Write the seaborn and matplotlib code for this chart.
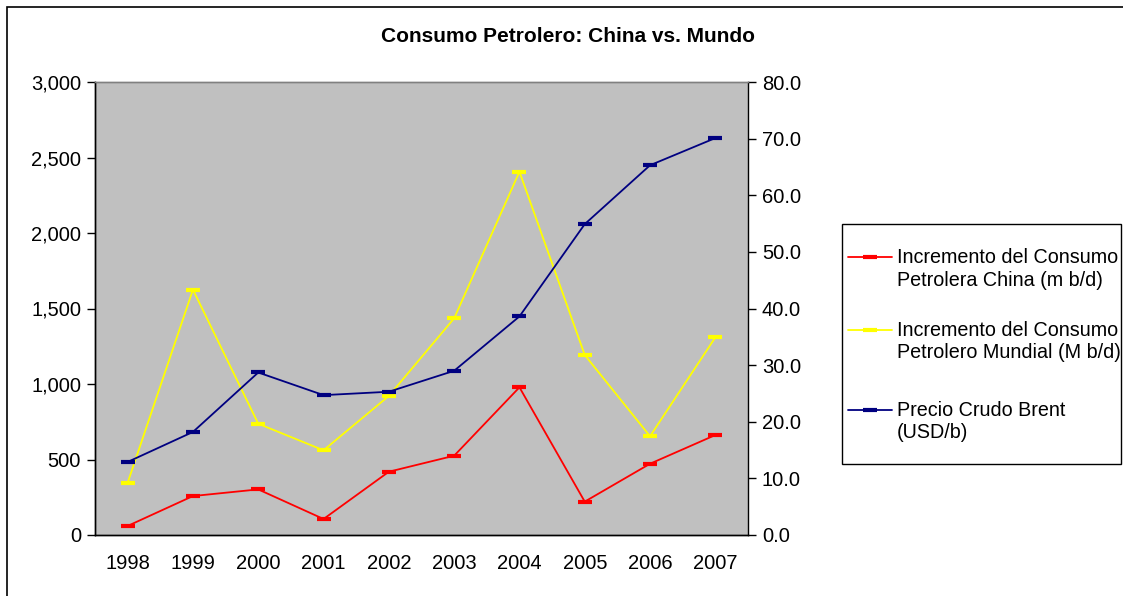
import numpy as np
import pandas as pd
import matplotlib
matplotlib.use("Agg")
import matplotlib.pyplot as plt
import seaborn as sns
from matplotlib.lines import Line2D
from matplotlib.ticker import FuncFormatter, FixedLocator

# Datos
years = ["1998", "1999", "2000", "2001", "2002", "2003", "2004", "2005", "2006", "2007"]
china = [60, 258, 302, 106, 419, 525, 978, 221, 472, 662]
mundo = [346, 1625, 737, 561, 921, 1435, 2406, 1192, 654, 1309]
brent = [12.9, 18.2, 28.7, 24.7, 25.3, 29.0, 38.6, 54.9, 65.3, 70.1]

lbl_china = "Incremento del Consumo\nPetrolera China (m b/d)"
lbl_mundo = "Incremento del Consumo\nPetrolero Mundial (M b/d)"
lbl_brent = "Precio Crudo Brent\n(USD/b)"

sns.set_style("white")
plt.rcParams["font.family"] = ["Liberation Sans", "DejaVu Sans"]
plt.rcParams["text.color"] = "black"
plt.rcParams["xtick.color"] = "black"
plt.rcParams["ytick.color"] = "black"

W, H = 1123, 596
df = pd.DataFrame({"pos": np.arange(len(years)), "china": china, "mundo": mundo, "brent": brent})

fig = plt.figure(figsize=(W / 100, H / 100), dpi=100)
ax = fig.add_axes([95 / W, 1 - 535 / H, (748 - 95) / W, (535 - 82) / H])
ax.set_facecolor("#c0c0c0")
ax2 = ax.twinx()

fs = 14.5
series = [("china", "#ff0000", lbl_china, ax),
          ("mundo", "#ffff00", lbl_mundo, ax),
          ("brent", "#000080", lbl_brent, ax2)]
for col, c, lab, a in series:
    sns.lineplot(data=df, x="pos", y=col, ax=a, color=c, legend=False,
                 marker="_", markersize=10, markeredgewidth=3, markeredgecolor=c,
                 markerfacecolor=c, linewidth=1.3)

ax.set_xlim(-0.5, len(years) - 0.5)
ax.set_ylim(0, 3000)
ax2.set_ylim(0, 80)
ax.set_xlabel("")
ax.set_ylabel("")
ax2.set_ylabel("")

ax.set_xticks(np.arange(len(years)))
ax.set_xticklabels(years)
ax.xaxis.set_minor_locator(FixedLocator(np.arange(-0.5, len(years), 1.0)))
ax.tick_params(axis="x", which="major", length=0, pad=14, labelsize=fs)
ax.tick_params(axis="x", which="minor", length=6, width=1, color="black", direction="out")

ax.set_yticks(np.arange(0, 3001, 500))
ax.yaxis.set_major_formatter(FuncFormatter(lambda v, p: f"{v:,.0f}"))
ax.tick_params(axis="y", length=6, width=1, color="black", direction="out", labelsize=fs, pad=4)

ax2.set_yticks(np.arange(0, 81, 10))
ax2.yaxis.set_major_formatter(FuncFormatter(lambda v, p: f"{v:.1f}"))
ax2.tick_params(axis="y", length=6, width=1, color="black", direction="out", labelsize=fs, pad=4)

for a in (ax, ax2):
    a.spines["top"].set_color("#808080")
    a.spines["left"].set_color("black")
    a.spines["bottom"].set_color("black")
    a.spines["right"].set_color("black")
    for s in a.spines.values():
        s.set_linewidth(1)
ax.spines["right"].set_visible(False)

fig.text(568 / W, 1 - 37 / H, "Consumo Petrolero: China vs. Mundo",
         ha="center", va="center", fontsize=15, fontweight="bold")

# leyenda dibujada a mano (estilo Excel)
fig.patches.append(plt.Rectangle((842 / W, 1 - 464 / H), (1121 - 842) / W, (464 - 224) / H,
                                 transform=fig.transFigure, facecolor="white",
                                 edgecolor="black", linewidth=1))
for (col, c, lab, a), y0 in zip(series, [257, 330, 410]):
    fig.lines.append(Line2D([848 / W, 892 / W], [1 - y0 / H] * 2, transform=fig.transFigure,
                            color=c, linewidth=1.3))
    fig.lines.append(Line2D([870 / W], [1 - y0 / H], transform=fig.transFigure,
                            color=c, marker="_", markersize=10, markeredgewidth=3))
    for k, line in enumerate(lab.split("\n")):
        fig.text(897 / W, 1 - (y0 + 23 * k) / H, line, ha="left", va="center", fontsize=14.2)

# marco exterior
fig.patches.append(plt.Rectangle((7 / W, -0.01), 1.1, 1 - 7 / H + 0.01,
                                 transform=fig.transFigure, fill=False,
                                 edgecolor="black", linewidth=1.2))

fig.savefig("out.png", dpi=100)
